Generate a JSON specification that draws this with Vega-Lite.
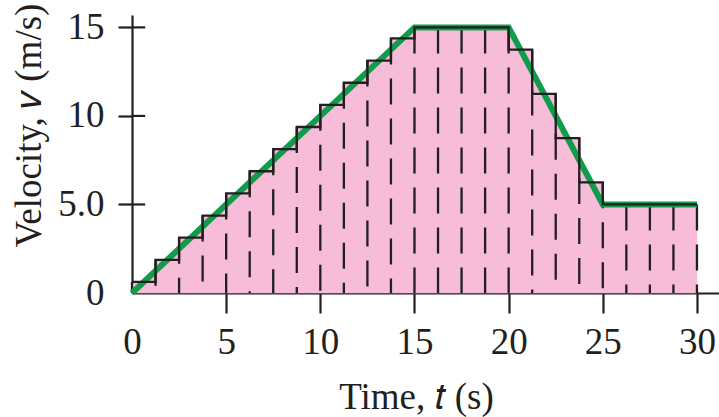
{
  "$schema": "https://vega.github.io/schema/vega-lite/v6.json",
  "width": 587,
  "height": 278,
  "autosize": {"type": "none"},
  "padding": {"left": 132, "top": 15, "right": 0, "bottom": 124},
  "background": "white",
  "config": {
    "view": {"stroke": null},
    "axis": {
      "grid": false,
      "domainColor": "#231f20",
      "domainWidth": 2.2,
      "tickColor": "#231f20",
      "tickWidth": 2.2,
      "labelFont": "Liberation Serif",
      "labelFontSize": 37,
      "labelColor": "#231f20",
      "titleFont": "Liberation Serif",
      "titleFontSize": 37,
      "titleFontWeight": "normal",
      "titleColor": "#231f20",
      "zindex": 1
    }
  },
  "datasets": {
    "curve": [
      {"t": 0, "v": 0}, {"t": 15, "v": 15}, {"t": 20, "v": 15}, {"t": 25, "v": 5}, {"t": 30, "v": 5}
    ],
    "rects": [
      {"t0": 0, "t1": 1.25, "v": 0.625},
      {"t0": 1.25, "t1": 2.5, "v": 1.875},
      {"t0": 2.5, "t1": 3.75, "v": 3.125},
      {"t0": 3.75, "t1": 5, "v": 4.375},
      {"t0": 5, "t1": 6.25, "v": 5.625},
      {"t0": 6.25, "t1": 7.5, "v": 6.875},
      {"t0": 7.5, "t1": 8.75, "v": 8.125},
      {"t0": 8.75, "t1": 10, "v": 9.375},
      {"t0": 10, "t1": 11.25, "v": 10.625},
      {"t0": 11.25, "t1": 12.5, "v": 11.875},
      {"t0": 12.5, "t1": 13.75, "v": 13.125},
      {"t0": 13.75, "t1": 15, "v": 14.375},
      {"t0": 15, "t1": 16.25, "v": 15},
      {"t0": 16.25, "t1": 17.5, "v": 15},
      {"t0": 17.5, "t1": 18.75, "v": 15},
      {"t0": 18.75, "t1": 20, "v": 15},
      {"t0": 20, "t1": 21.25, "v": 13.75},
      {"t0": 21.25, "t1": 22.5, "v": 11.25},
      {"t0": 22.5, "t1": 23.75, "v": 8.75},
      {"t0": 23.75, "t1": 25, "v": 6.25},
      {"t0": 25, "t1": 26.25, "v": 5},
      {"t0": 26.25, "t1": 27.5, "v": 5},
      {"t0": 27.5, "t1": 28.75, "v": 5},
      {"t0": 28.75, "t1": 30, "v": 5}
    ],
    "steps": [
      {"t": 0, "v": 0.625}, {"t": 1.25, "v": 1.875}, {"t": 2.5, "v": 3.125}, {"t": 3.75, "v": 4.375},
      {"t": 5, "v": 5.625}, {"t": 6.25, "v": 6.875}, {"t": 7.5, "v": 8.125}, {"t": 8.75, "v": 9.375},
      {"t": 10, "v": 10.625}, {"t": 11.25, "v": 11.875}, {"t": 12.5, "v": 13.125}, {"t": 13.75, "v": 14.375},
      {"t": 15, "v": 15}, {"t": 16.25, "v": 15}, {"t": 17.5, "v": 15}, {"t": 18.75, "v": 15},
      {"t": 20, "v": 13.75}, {"t": 21.25, "v": 11.25}, {"t": 22.5, "v": 8.75}, {"t": 23.75, "v": 6.25},
      {"t": 25, "v": 5}, {"t": 26.25, "v": 5}, {"t": 27.5, "v": 5}, {"t": 28.75, "v": 5}, {"t": 30, "v": 5}
    ],
    "edges": [
      {"t": 0, "top": 0.625}, {"t": 1.25, "top": 1.875}, {"t": 2.5, "top": 3.125}, {"t": 3.75, "top": 4.375},
      {"t": 5, "top": 5.625}, {"t": 6.25, "top": 6.875}, {"t": 7.5, "top": 8.125}, {"t": 8.75, "top": 9.375},
      {"t": 10, "top": 10.625}, {"t": 11.25, "top": 11.875}, {"t": 12.5, "top": 13.125}, {"t": 13.75, "top": 14.375},
      {"t": 15, "top": 15}, {"t": 16.25, "top": 15}, {"t": 17.5, "top": 15}, {"t": 18.75, "top": 15},
      {"t": 20, "top": 15}, {"t": 21.25, "top": 13.75}, {"t": 22.5, "top": 11.25}, {"t": 23.75, "top": 8.75},
      {"t": 25, "top": 6.25}, {"t": 26.25, "top": 5}, {"t": 27.5, "top": 5}, {"t": 28.75, "top": 5}, {"t": 30, "top": 5}
    ],
    "yticks": [
      {"x0": 0, "x1": 0.7, "v": 5}, {"x0": 0, "x1": 0.7, "v": 10}, {"x0": 0, "x1": 0.7, "v": 15}
    ]
  },
  "layer": [
    {
      "data": {"name": "curve"},
      "mark": {"type": "area", "color": "#f6bcd8"},
      "encoding": {
        "x": {
          "field": "t", "type": "quantitative",
          "scale": {"domain": [0, 31.17], "nice": false, "zero": false},
          "axis": {
            "values": [0, 5, 10, 15, 20, 25, 30],
            "tickSize": 20,
            "labelPadding": 11,
            "labelFlush": false,
            "labelOverlap": false,
            "tickOpacity": {"condition": {"test": "datum.value === 0", "value": 0}, "value": 1},
            "title": "Time, 𝑡 (s)",
            "titleX": 284,
            "titleY": 115,
            "titleAlign": "center",
            "titleBaseline": "alphabetic"
          }
        },
        "y": {
          "field": "v", "type": "quantitative",
          "scale": {"domain": [0, 15.7], "nice": false},
          "axis": {
            "values": [0, 5, 10, 15],
            "tickSize": 14,
            "labelPadding": 14,
            "labelFlush": false,
            "labelOverlap": false,
            "labelExpr": "datum.value === 5 ? '5.0' : datum.label",
            "tickOpacity": {"condition": {"test": "datum.value === 0", "value": 0}, "value": 1},
            "title": "Velocity, 𝑣 (m/s)",
            "titleAngle": -90,
            "titleX": -92,
            "titleY": 110,
            "titleAlign": "center",
            "titleBaseline": "alphabetic"
          }
        }
      }
    },
    {
      "data": {"name": "rects"},
      "mark": {"type": "rect", "color": "#f6bcd8", "stroke": "#f6bcd8", "strokeWidth": 0.5},
      "encoding": {
        "x": {"field": "t0", "type": "quantitative"},
        "x2": {"field": "t1"},
        "y": {"field": "v", "type": "quantitative"},
        "y2": {"datum": 0}
      }
    },
    {
      "data": {"name": "edges"},
      "mark": {"type": "rule", "color": "#231f20", "strokeWidth": 2.3, "strokeDash": [26, 14]},
      "encoding": {
        "x": {"field": "t", "type": "quantitative"},
        "y": {"field": "top", "type": "quantitative"},
        "y2": {"datum": 0}
      }
    },
    {
      "data": {"name": "curve"},
      "mark": {"type": "line", "color": "#0f9d4b", "strokeWidth": 6},
      "encoding": {
        "x": {"field": "t", "type": "quantitative"},
        "y": {"field": "v", "type": "quantitative"}
      }
    },
    {
      "data": {"name": "steps"},
      "mark": {"type": "line", "color": "#231f20", "strokeWidth": 2.3, "interpolate": "step-after"},
      "encoding": {
        "x": {"field": "t", "type": "quantitative"},
        "y": {"field": "v", "type": "quantitative"}
      }
    },
    {
      "data": {"name": "yticks"},
      "mark": {"type": "rule", "color": "#231f20", "strokeWidth": 2.2},
      "encoding": {
        "x": {"field": "x0", "type": "quantitative"},
        "x2": {"field": "x1"},
        "y": {"field": "v", "type": "quantitative"}
      }
    }
  ]
}
